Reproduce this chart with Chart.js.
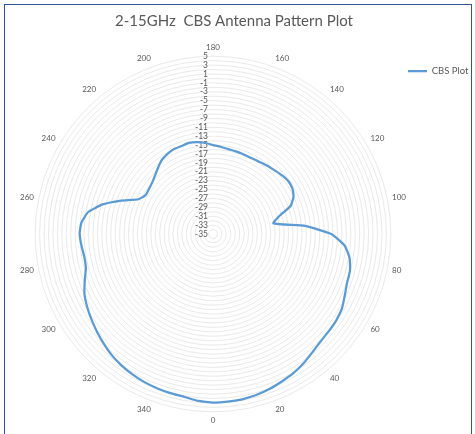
<!DOCTYPE html>
<html>
<head>
<meta charset="utf-8">
<script src="https://cdn.jsdelivr.net/npm/chart.js@4.4.1/dist/chart.umd.min.js"></script>
<style>
  html, body { margin: 0; padding: 0; background: #ffffff; }
  #wrap { position: relative; width: 475px; height: 434px; overflow: hidden; }
  #frame { position: absolute; left: 4px; top: 4px; width: 466px; height: 440px;
           border: 1.5px solid #2f5597; pointer-events: none; }
  canvas { position: absolute; left: 0; top: 0; }
</style>
</head>
<body>
<div id="wrap">
  <canvas id="patternChart" width="475" height="434"></canvas>
  <div id="frame"></div>
</div>
<script>
const angleDeg = [
  0, 5, 10, 15, 20, 25, 30, 35, 40, 45, 50, 55,
  60, 65, 70, 75, 80, 85, 90, 95, 100, 105, 110, 115,
  120, 125, 130, 135, 140, 145, 150, 155, 160, 165, 170, 175,
  180, 185, 190, 195, 200, 205, 210, 215, 220, 225, 230, 235,
  240, 245, 250, 255, 260, 265, 270, 275, 280, 285, 290, 295,
  300, 305, 310, 315, 320, 325, 330, 335, 340, 345, 350, 355
];
const cbsGain = [
  2.9, 2.85, 2.75, 2.5, 2.1, 1.6, 1.15, 0.5, -0.25, -0.8, -1.0, -1.15,
  -1.5, -2.3, -2.9, -3.1, -3.8, -5.3, -8.4, -14.2, -21.2, -19.6, -16.4, -15.0,
  -14.4, -14.3, -14.6, -15.0, -15.3, -15.6, -15.8, -15.9, -15.8, -15.7, -15.6, -15.3,
  -15.0, -14.4, -14.0, -13.8, -14.0, -14.0, -14.3, -14.8, -15.7, -16.5, -17.1, -17.4,
  -17.5, -16.5, -13.0, -9.3, -6.5, -5.3, -5.0, -5.3, -5.6, -5.4, -4.3, -3.1,
  -2.3, -1.6, -0.9, -0.2, 0.5, 1.0, 1.4, 1.7, 1.9, 2.05, 2.2, 2.7
];
const seriesName = "CBS Plot";
const chartTitle = "2-15GHz  CBS Antenna Pattern Plot";
const scaleMin = -35;
const scaleMax = 5;
const labelEveryDeg = 20;

// Excel radar starts at the top and runs clockwise: 180, 175, ... 0, 355 ... 185
const n = angleDeg.length;
const startIdx = angleDeg.indexOf(180);
const labels = [];
const values = [];
for (let k = 0; k < n; k++) {
  const idx = (startIdx - k + n) % n;
  labels.push(angleDeg[idx]);
  values.push(cbsGain[idx]);
}

const textColor = "#595959";
const fontFamily = "Lato, 'Open Sans', sans-serif";

// Value labels sit left of the vertical axis, right aligned (Excel style)
const tickLabelPlugin = {
  id: "tickLabels",
  // legend box is kept narrow for layout, widen it afterwards so the text isn't clipped
  afterLayout(chart) {
    if (chart.legend) {
      chart.legend.right = chart.width;
      chart.legend.width = chart.legend.right - chart.legend.left;
    }
  },
  beforeDatasetsDraw(chart) {
    const r = chart.scales.r;
    const ctx = chart.ctx;
    ctx.save();
    ctx.font = "8.5px " + fontFamily;
    ctx.fillStyle = textColor;
    ctx.textAlign = "right";
    ctx.textBaseline = "middle";
    r.ticks.forEach((t) => {
      if (Math.abs(t.value % 2) !== 1) return;
      const d = r.getDistanceFromCenterForValue(t.value);
      ctx.fillText(String(t.value), r.xCenter - 5, r.yCenter - d);
    });
    ctx.restore();
  },
};

const ctx = document.getElementById("patternChart").getContext("2d");
new Chart(ctx, {
  type: "radar",
  data: {
    labels: labels,
    datasets: [
      {
        label: seriesName,
        data: values,
        borderColor: "#5B9BD5",
        backgroundColor: "#5B9BD5",
        borderWidth: 2.25,
        pointRadius: 0,
        fill: false,
        tension: 0.15,
      },
    ],
  },
  options: {
    responsive: false,
    animation: false,
    layout: { padding: { left: 20, right: 27, top: 0, bottom: 6 } },
    scales: {
      r: {
        min: scaleMin,
        max: scaleMax,
        ticks: { stepSize: 1, display: false },
        angleLines: { display: false },
        grid: { circular: true, color: "#e2e2e2", lineWidth: 0.75 },
        pointLabels: {
          color: textColor,
          font: { family: fontFamily, size: 8 },
          padding: 4,
          callback: (label) => (label % labelEveryDeg === 0 ? String(label) : ""),
        },
      },
    },
    plugins: {
      title: {
        display: true,
        text: chartTitle,
        color: textColor,
        font: { family: fontFamily, size: 15, weight: "normal" },
        padding: { top: 12, bottom: 12 },
      },
      legend: {
        position: "right",
        align: "start",
        maxWidth: 41,
        title: { display: true, text: " ", font: { size: 12 }, padding: { top: 51, bottom: 0 } },
        labels: {
          color: textColor,
          font: { family: fontFamily, size: 9.5 },
          usePointStyle: true,
          pointStyle: "line",
          pointStyleWidth: 19,
          boxHeight: 4,
          padding: 1,
        },
      },
      tooltip: { enabled: false },
    },
  },
  plugins: [tickLabelPlugin],
});
</script>
</body>
</html>
